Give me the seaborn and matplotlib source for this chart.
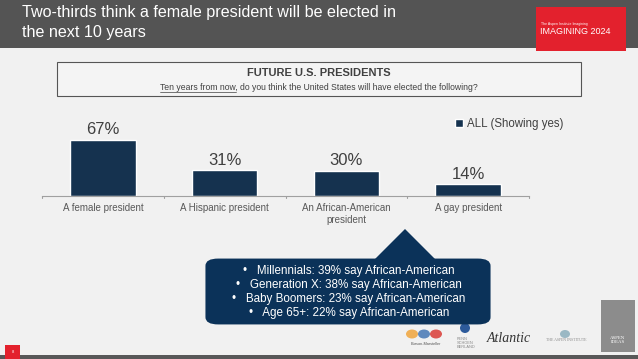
import numpy as np
import pandas as pd
import matplotlib
matplotlib.use("Agg")
import matplotlib.pyplot as plt
from matplotlib.patches import Rectangle, FancyBboxPatch, Polygon, Ellipse
import seaborn as sns

# Data
categories = ["A female president", "A Hispanic president",
              "An African-American\npresident", "A gay president"]
values = [67, 31, 30, 14]
series_name = "ALL (Showing yes)"
callout_lines = [
    "•   Millennials: 39% say African-American",
    "•   Generation X: 38% say African-American",
    "•   Baby Boomers: 23% say African-American",
    "•   Age 65+: 22% say African-American",
]

NAVY = "#0b3259"
BG = "#f1f1f1"

sns.set_theme(style="white")
plt.rcParams["font.family"] = ["Liberation Sans", "DejaVu Sans"]
SERIF = ["Liberation Serif", "DejaVu Serif"]

W, H = 638, 359
fig = plt.figure(figsize=(W / 100, H / 100), dpi=100)
fig.patch.set_facecolor(BG)


def fx(px):
    return px / W


def fy(py):
    return 1 - py / H


# header band
fig.patches.append(Rectangle((0, fy(48)), 1, 48 / H, transform=fig.transFigure,
                             facecolor="#545454", edgecolor="none", zorder=0))
fig.text(fx(22), fy(12.5), "Two-thirds think a female president will be elected in",
         color="white", fontsize=11.6, va="center", ha="left")
fig.text(fx(22), fy(32.5), "the next 10 years", color="white", fontsize=11.6,
         va="center", ha="left")
# red logo tile
fig.patches.append(Rectangle((fx(536), fy(51)), fx(90), 44 / H, transform=fig.transFigure,
                             facecolor="#e3212d", edgecolor="none", zorder=1))
fig.text(fx(541), fy(24), "The Aspen Institute Imagining", color="white", fontsize=2.5,
         va="center", ha="left", zorder=2)
fig.text(fx(540), fy(32), "IMAGINING 2024", color="white", fontsize=6.5,
         va="center", ha="left", zorder=2)

# question box
fig.patches.append(Rectangle((fx(57), fy(96)), fx(524), 34 / H, transform=fig.transFigure,
                             facecolor="#f4f4f4", edgecolor="#555555", linewidth=0.8,
                             zorder=1))
fig.text(fx(319), fy(73), "FUTURE U.S. PRESIDENTS", color="#404040", fontsize=8,
         fontweight="bold", ha="center", va="center", zorder=2)
sub = fig.text(fx(319), fy(87),
               "Ten years from now, do you think the United States will have elected the following?",
               color="#404040", fontsize=6.2, ha="center", va="center", zorder=2)
# underline the leading phrase
renderer = fig.canvas.get_renderer()
full_bb = sub.get_window_extent(renderer)
probe = fig.text(0, 0, "Ten years from now", fontsize=6.2)
probe_w = probe.get_window_extent(renderer).width
probe.remove()
x0 = full_bb.x0 / W
x1 = (full_bb.x0 + probe_w) / W
fig.lines.append(plt.Line2D([x0, x1], [fy(91.5), fy(91.5)],
                            transform=fig.transFigure, color="#404040", linewidth=0.5))

# chart
df = pd.DataFrame({"category": categories, "value": values, "series": series_name})
ax = fig.add_axes([fx(42), fy(196), fx(487), (196 - 110) / H])
ax.set_facecolor("none")
sns.barplot(data=df, x="category", y="value", hue="series", palette=[NAVY],
            width=0.54, ax=ax, legend=True)
ax.set_ylim(0, (196 - 110) / 0.836)
ax.set_xlim(-0.5, 3.5)
ax.set_yticks([])
ax.set_xlabel("")
ax.set_ylabel("")
for s in ["top", "left", "right"]:
    ax.spines[s].set_visible(False)
ax.spines["bottom"].set_color("#a0a0a0")
ax.spines["bottom"].set_linewidth(0.8)
ax.set_xticks([0, 1, 2, 3])
ax.set_xticklabels(categories, fontsize=7, color="#595959")
ax.tick_params(axis="x", length=0, pad=5)
for b in [-0.5, 0.5, 1.5, 2.5, 3.5]:
    ax.plot([b, b], [0, -2.5], color="#a0a0a0", linewidth=0.8, clip_on=False)
for i, v in enumerate(values):
    ax.text(i, v + 3, f"{v}%", ha="center", va="bottom", fontsize=12, color="#404040")

leg = ax.legend(loc="upper left", bbox_to_anchor=(fx(455), fy(118)),
                bbox_transform=fig.transFigure, frameon=False, fontsize=8.3,
                handlelength=0.7, handleheight=0.7, handletextpad=0.3,
                borderaxespad=0, borderpad=0)
for t in leg.get_texts():
    t.set_color("#404040")

# callout bubble
fig.patches.append(Polygon([(fx(372), fy(262)), (fx(405), fy(229)), (fx(438), fy(262))],
                           closed=True, transform=fig.transFigure, facecolor=NAVY,
                           edgecolor="none", zorder=3))
fig.patches.append(FancyBboxPatch((fx(208), fy(323)), fx(280), 63 / H,
                                  boxstyle="round,pad=0.004,rounding_size=0.02",
                                  transform=fig.transFigure, facecolor=NAVY,
                                  edgecolor="none", zorder=3))
for k, line in enumerate(callout_lines):
    fig.text(fx(349), fy(271 + k * 14), line, color="white", fontsize=8.4,
             ha="center", va="center", zorder=4)

# footer logos (approximate marks)
for cx, col in [(412, "#f0a030"), (424, "#3a6fb0"), (436, "#d8302a")]:
    fig.patches.append(Ellipse((fx(cx), fy(334)), fx(12), 9 / H, transform=fig.transFigure,
                               facecolor=col, edgecolor="none", alpha=0.8, zorder=1))
fig.text(fx(426), fy(344), "Burson-Marsteller", fontsize=2.8, color="#555555",
         ha="center", va="center")
fig.patches.append(Ellipse((fx(465), fy(328)), fx(10), 10 / H, transform=fig.transFigure,
                           facecolor="#2d5a9a", edgecolor="none", zorder=1))
fig.text(fx(457), fy(343), "PENN\nSCHOEN\nBERLAND", fontsize=2.8, color="#888888",
         ha="left", va="center", linespacing=1.0)
fig.text(fx(487), fy(339), "Atlantic", fontsize=10, color="#333333",
         fontstyle="italic", family=SERIF, ha="left", va="center")
fig.patches.append(Ellipse((fx(565), fy(334)), fx(10), 8 / H, transform=fig.transFigure,
                           facecolor="#9ab8c4", edgecolor="none", zorder=1))
fig.text(fx(566), fy(340), "THE ASPEN INSTITUTE", fontsize=2.8, color="#8a8a8a",
         family=SERIF, ha="center", va="center")
fig.patches.append(Rectangle((fx(601), fy(352)), fx(34), 52 / H, transform=fig.transFigure,
                             facecolor="#8c8c8c", edgecolor="none", zorder=1))
fig.text(fx(618), fy(340), "ASPEN\nIDEAS", fontsize=3.5, color="white",
         ha="center", va="center", zorder=2, family=SERIF)

# bottom bar and slide number
fig.patches.append(Rectangle((0, 0), 1, 4 / H, transform=fig.transFigure,
                             facecolor="#585858", edgecolor="none", zorder=1))
fig.patches.append(Rectangle((fx(5), 0), fx(15), 14 / H, transform=fig.transFigure,
                             facecolor="#e3212d", edgecolor="none", zorder=2))
fig.text(fx(12.5), fy(352), "8", fontsize=3, color="white", ha="center", va="center",
         zorder=3)

fig.savefig("out.png", dpi=100, facecolor=fig.get_facecolor())
